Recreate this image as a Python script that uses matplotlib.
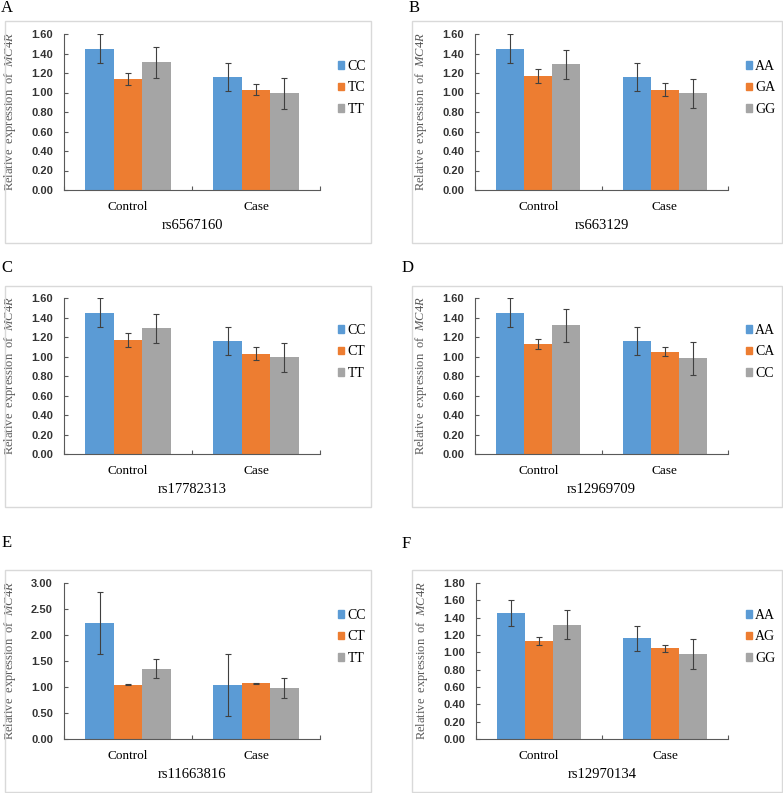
import numpy as np
import matplotlib
matplotlib.use('Agg')
import matplotlib.pyplot as plt
from matplotlib.patches import Rectangle, Patch

plt.rcParams['mathtext.fontset'] = 'custom'
plt.rcParams['mathtext.rm'] = 'Liberation Serif'
plt.rcParams['mathtext.it'] = 'Liberation Serif:italic'

groups = ['Control', 'Case']
colors = ['#5B9BD5', '#ED7D31', '#A5A5A5']

# panel letter, snp, genotypes, means [genotype][group], errors, y max, y step
panel_letters = ['A', 'B', 'C', 'D', 'E', 'F']
snps = ['rs6567160', 'rs663129', 'rs17782313', 'rs12969709', 'rs11663816', 'rs12970134']
genotypes = [['CC', 'TC', 'TT'], ['AA', 'GA', 'GG'], ['CC', 'CT', 'TT'],
             ['AA', 'CA', 'CC'], ['CC', 'CT', 'TT'], ['AA', 'AG', 'GG']]
means = [
    [[1.45, 1.16], [1.14, 1.03], [1.31, 0.99]],
    [[1.45, 1.16], [1.17, 1.03], [1.29, 0.99]],
    [[1.45, 1.16], [1.17, 1.03], [1.29, 0.99]],
    [[1.45, 1.16], [1.13, 1.05], [1.32, 0.98]],
    [[2.23, 1.04], [1.045, 1.07], [1.35, 0.98]],
    [[1.45, 1.16], [1.13, 1.045], [1.32, 0.98]],
]
errors = [
    [[0.145, 0.145], [0.06, 0.06], [0.16, 0.16]],
    [[0.145, 0.14], [0.07, 0.07], [0.15, 0.15]],
    [[0.145, 0.14], [0.07, 0.07], [0.15, 0.15]],
    [[0.145, 0.14], [0.05, 0.045], [0.17, 0.17]],
    [[0.60, 0.60], [0.01, 0.015], [0.18, 0.19]],
    [[0.15, 0.145], [0.045, 0.045], [0.17, 0.17]],
]
ymax = [1.6, 1.6, 1.6, 1.6, 3.0, 1.8]
ystep = [0.2, 0.2, 0.2, 0.2, 0.5, 0.2]

W, H = 783, 793
# pixel layout: axes (left, right, top, bottom), frame (l, r, t, b), letter (x, y)
ax_px = [(64, 320, 34, 190), (475, 728, 34, 190),
         (64, 320, 298, 454), (475, 728, 298, 454),
         (64, 320, 583, 739), (476, 728, 583, 739)]
frame_px = [(5, 371, 21, 243), (412, 782, 21, 243),
            (5, 371, 286, 507), (412, 782, 286, 507),
            (5, 371, 570, 792), (412, 782, 570, 792)]
letter_px = [(1, 8), (409, 8), (1, 268), (402, 268), (2, 543), (402, 544)]

fig = plt.figure(figsize=(W / 100, H / 100), dpi=100)
serif = 'Liberation Serif'
sans = 'Liberation Sans'
axis_col = '#595959'

for i in range(6):
    l, r, t, b = frame_px[i]
    fig.patches.append(Rectangle((l / W, 1 - b / H), (r - l) / W, (b - t) / H,
                                 transform=fig.transFigure, fill=False,
                                 edgecolor='#d9d9d9', lw=1.0))
    lx, ly = letter_px[i]
    fig.text(lx / W, 1 - ly / H, panel_letters[i], family=serif, fontsize=12,
             va='center', ha='left')

    al, ar, at, ab = ax_px[i]
    ax = fig.add_axes([al / W, 1 - ab / H, (ar - al) / W, (ab - at) / H])
    x = np.arange(len(groups))
    w = 0.222
    for k in range(3):
        ax.bar(x + (k - 1) * w, means[i][k], width=w, color=colors[k],
               yerr=errors[i][k], error_kw=dict(ecolor='#404040', elinewidth=0.8,
                                                capsize=2, capthick=0.8),
               label=genotypes[i][k])
    ax.set_xlim(-0.5, 1.5)
    ax.set_ylim(0, ymax[i])
    ticks = np.arange(0, ymax[i] + 1e-6, ystep[i])
    ax.set_yticks(ticks)
    ax.set_yticklabels(['%.2f' % v for v in ticks], family=sans, fontsize=8,
                       fontweight='bold', color='#333333')
    ax.set_xticks([-0.5, 0.5, 1.5])
    ax.set_xticklabels([])
    ax.set_xticks(x, minor=True)
    ax.set_xticklabels(groups, minor=True, family=serif, fontsize=9.5)
    ax.tick_params(axis='x', which='minor', length=0, pad=8)
    ax.tick_params(axis='x', which='major', direction='in', length=3, color=axis_col)
    ax.tick_params(axis='y', direction='in', length=3, color=axis_col, pad=8)
    for s in ['top', 'right']:
        ax.spines[s].set_visible(False)
    for s in ['left', 'bottom']:
        ax.spines[s].set_color(axis_col)
        ax.spines[s].set_linewidth(0.8)
    ax.set_xlabel(snps[i], family=serif, fontsize=10.5, labelpad=4)
    ax.set_ylabel('Relative  expression  of  $\\mathit{MC4R}$', family=serif,
                  fontsize=9, color='#595959')
    ax.yaxis.set_label_coords(-46 / (ar - al), 0.5)
    handles = [Patch(color=c) for c in colors]
    ax.legend(handles, genotypes[i], loc='center left',
              bbox_to_anchor=(1.02, 0.654), frameon=False,
              prop={'family': serif, 'size': 10}, handlelength=0.45,
              handleheight=0.45, handletextpad=0.25, labelspacing=0.6)

fig.savefig('out.png', dpi=100)
